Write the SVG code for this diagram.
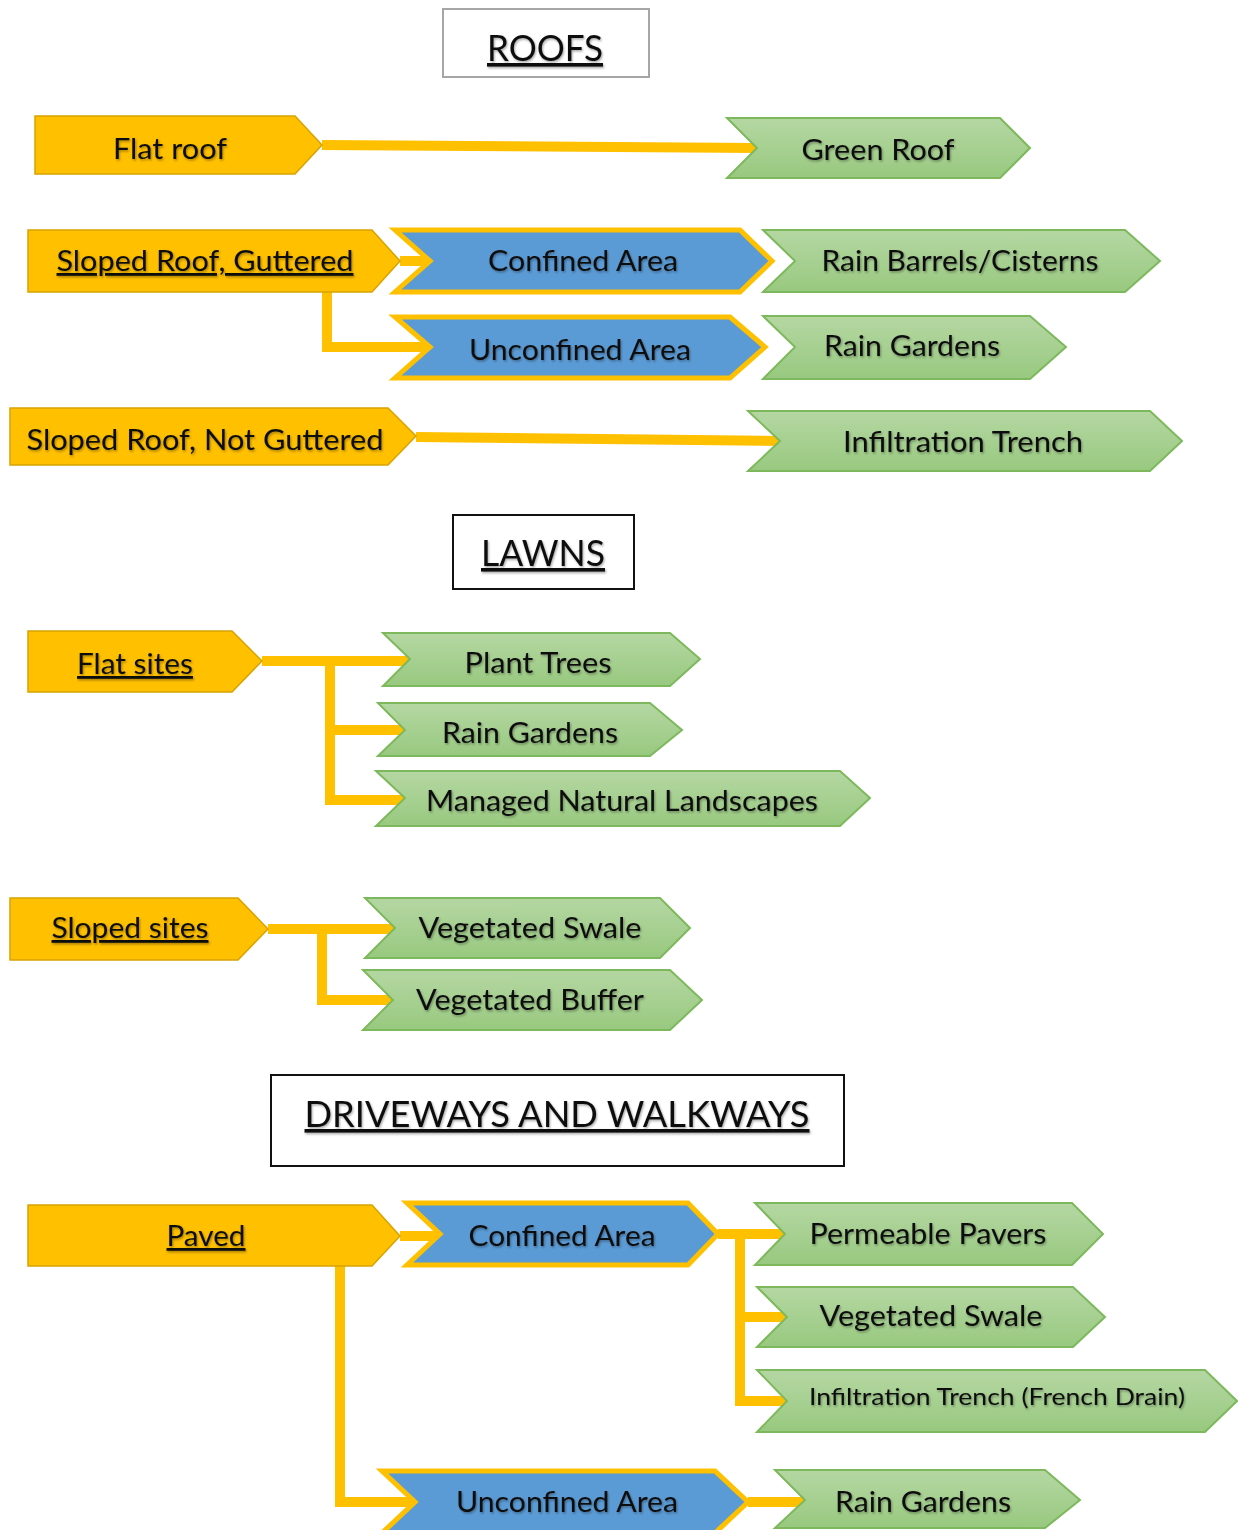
<svg xmlns="http://www.w3.org/2000/svg" width="1238" height="1530" viewBox="0 0 1238 1530">
<defs>
<linearGradient id="gg" x1="0" y1="0" x2="0" y2="1">
<stop offset="0" stop-color="#b5d7a3"/>
<stop offset="1" stop-color="#98c97f"/>
</linearGradient>
<filter id="ts" x="-5%" y="-20%" width="110%" height="150%">
<feDropShadow dx="1" dy="1.5" stdDeviation="1" flood-color="#000" flood-opacity="0.35"/>
</filter>
</defs>
<style>
text{font-family:Lato,"Open Sans","Liberation Sans",sans-serif;font-size:28px;fill:#111;text-anchor:middle;filter:url(#ts)}
.y{fill:#FFC000;stroke:#d8a300;stroke-width:1.5}
.g{fill:url(#gg);stroke:#7db95c;stroke-width:2}
.b{fill:#5b9bd5;stroke:#FFC000;stroke-width:5}
.c{fill:none;stroke:#FFC000;stroke-width:10}
.u{text-decoration:underline}
.hdr{font-size:36px}
</style>
<rect width="1238" height="1530" fill="#fff"/>
<g id="connectors">
<path class="c" d="M322,145 L757,148"/>
<path class="c" d="M400,261 H430"/>
<path class="c" d="M327,290 V347 H430"/>
<path class="c" d="M416,437 L780,441"/>
<path class="c" d="M262,661 H410 M330,661 V800 H405 M330,730 H405"/>
<path class="c" d="M268,929 H395 M322,929 V1000 H393"/>
<path class="c" d="M400,1236 H440"/>
<path class="c" d="M340,1264 V1502 H415"/>
<path class="c" d="M748,1502 H805"/>
<path class="c" d="M718,1234 H785 M740,1234 V1401 H787 M740,1317 H787"/>
</g>
<g id="roofs-title"><rect x="443" y="9" width="206" height="68" fill="#fff" stroke="#a6a6a6" stroke-width="2"/><text class="hdr u" x="545" y="61" textLength="116" lengthAdjust="spacingAndGlyphs">ROOFS</text></g>
<g id="flat-roof"><path class="y" d="M35,116 H295 L322,145 L295,174 H35 Z"/><text x="170" y="159" textLength="114" lengthAdjust="spacingAndGlyphs">Flat roof</text></g>
<g id="green-roof"><path class="g" d="M727,118 H1000 L1030,148 L1000,178 H727 L757,148 Z"/><text x="878" y="160" textLength="153" lengthAdjust="spacingAndGlyphs">Green Roof</text></g>
<g id="sloped-guttered"><path class="y" d="M28,230 H372 L400,261 L372,292 H28 Z"/><text class="u" x="205" y="271" textLength="297" lengthAdjust="spacingAndGlyphs">Sloped Roof, Guttered</text></g>
<g id="confined-1"><path class="b" d="M395,230 H740 L772,261 L740,292 H395 L430,261 Z"/><text x="583" y="271" textLength="190" lengthAdjust="spacingAndGlyphs">Confined Area</text></g>
<g id="rain-barrels"><path class="g" d="M763,230 H1125 L1160,261 L1125,292 H763 L795,261 Z"/><text x="960" y="271" textLength="277" lengthAdjust="spacingAndGlyphs">Rain Barrels/Cisterns</text></g>
<g id="unconfined-1"><path class="b" d="M395,317 H730 L765,347 L730,378 H395 L430,347 Z"/><text x="580" y="360" textLength="222" lengthAdjust="spacingAndGlyphs">Unconfined Area</text></g>
<g id="rain-gardens-1"><path class="g" d="M763,316 H1030 L1066,347 L1030,379 H763 L795,347 Z"/><text x="912" y="356" textLength="176" lengthAdjust="spacingAndGlyphs">Rain Gardens</text></g>
<g id="sloped-not-guttered"><path class="y" d="M10,408 H388 L416,436 L388,465 H10 Z"/><text x="205" y="450" textLength="357" lengthAdjust="spacingAndGlyphs">Sloped Roof, Not Guttered</text></g>
<g id="infiltration-trench"><path class="g" d="M748,411 H1150 L1182,441 L1150,471 H748 L780,441 Z"/><text x="963" y="452" textLength="240" lengthAdjust="spacingAndGlyphs">Infiltration Trench</text></g>
<g id="lawns-title"><rect x="453" y="515" width="181" height="74" fill="#fff" stroke="#111" stroke-width="2"/><text class="hdr u" x="543" y="566" textLength="124" lengthAdjust="spacingAndGlyphs">LAWNS</text></g>
<g id="flat-sites"><path class="y" d="M28,631 H232 L262,661 L232,692 H28 Z"/><text class="u" x="135" y="674" textLength="116" lengthAdjust="spacingAndGlyphs">Flat sites</text></g>
<g id="plant-trees"><path class="g" d="M383,633 H670 L700,659 L670,686 H383 L410,659 Z"/><text x="538" y="673" textLength="147" lengthAdjust="spacingAndGlyphs">Plant Trees</text></g>
<g id="rain-gardens-2"><path class="g" d="M378,703 H650 L682,730 L650,756 H378 L405,730 Z"/><text x="530" y="743" textLength="176" lengthAdjust="spacingAndGlyphs">Rain Gardens</text></g>
<g id="managed-landscapes"><path class="g" d="M376,771 H840 L870,798 L840,826 H376 L405,798 Z"/><text x="622" y="811" textLength="392" lengthAdjust="spacingAndGlyphs">Managed Natural Landscapes</text></g>
<g id="sloped-sites"><path class="y" d="M10,898 H238 L268,929 L238,960 H10 Z"/><text class="u" x="130" y="938" textLength="157" lengthAdjust="spacingAndGlyphs">Sloped sites</text></g>
<g id="vegetated-swale-1"><path class="g" d="M365,898 H660 L690,928 L660,958 H365 L395,928 Z"/><text x="530" y="938" textLength="223" lengthAdjust="spacingAndGlyphs">Vegetated Swale</text></g>
<g id="vegetated-buffer"><path class="g" d="M363,970 H670 L702,1000 L670,1030 H363 L393,1000 Z"/><text x="530" y="1010" textLength="228" lengthAdjust="spacingAndGlyphs">Vegetated Buffer</text></g>
<g id="driveways-title"><rect x="271" y="1075" width="573" height="91" fill="#fff" stroke="#111" stroke-width="2"/><text class="hdr u" x="557" y="1127" textLength="505" lengthAdjust="spacingAndGlyphs">DRIVEWAYS AND WALKWAYS</text></g>
<g id="paved"><path class="y" d="M28,1205 H372 L400,1236 L372,1266 H28 Z"/><text class="u" x="206" y="1246" textLength="79" lengthAdjust="spacingAndGlyphs">Paved</text></g>
<g id="confined-2"><path class="b" d="M407,1203 H688 L718,1234 L688,1265 H407 L440,1234 Z"/><text x="562" y="1246" textLength="187" lengthAdjust="spacingAndGlyphs">Confined Area</text></g>
<g id="permeable-pavers"><path class="g" d="M755,1203 H1072 L1103,1234 L1072,1265 H755 L785,1234 Z"/><text x="928" y="1244" textLength="237" lengthAdjust="spacingAndGlyphs">Permeable Pavers</text></g>
<g id="vegetated-swale-2"><path class="g" d="M757,1287 H1073 L1105,1317 L1073,1347 H757 L787,1317 Z"/><text x="931" y="1326" textLength="223" lengthAdjust="spacingAndGlyphs">Vegetated Swale</text></g>
<g id="infiltration-french"><path class="g" d="M757,1370 H1205 L1237,1401 L1205,1432 H757 L787,1401 Z"/><text x="997" y="1405" style="font-size:24px" textLength="376" lengthAdjust="spacingAndGlyphs">Infiltration Trench (French Drain)</text></g>
<g id="unconfined-2"><path class="b" d="M382,1471 H715 L748,1502 L715,1533 H382 L415,1502 Z"/><text x="567" y="1512" textLength="222" lengthAdjust="spacingAndGlyphs">Unconfined Area</text></g>
<g id="rain-gardens-3"><path class="g" d="M775,1470 H1045 L1080,1500 L1045,1528 H775 L805,1500 Z"/><text x="923" y="1512" textLength="176" lengthAdjust="spacingAndGlyphs">Rain Gardens</text></g>
</svg>
